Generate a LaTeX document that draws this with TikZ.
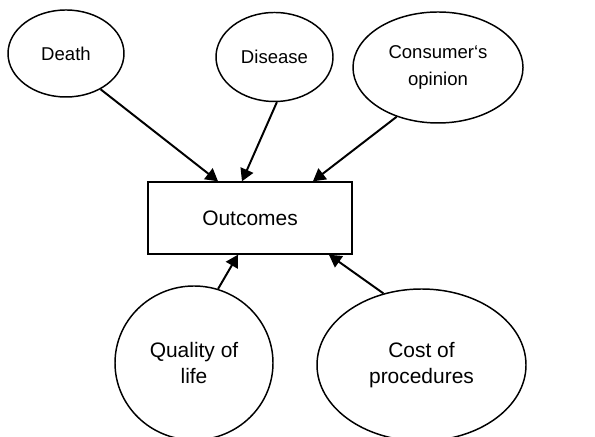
\documentclass[tikz,border=0pt]{standalone}
\usepackage{fontspec}
\setmainfont{Liberation Sans}
\usetikzlibrary{shapes,arrows}

\begin{document}
\begin{tikzpicture} [bubble/.style={ellipse,draw,line width=1.05pt,inner sep=0pt,align=center},
  toptext/.style={font=\fontsize{13.2}{19}\selectfont},
  lowtext/.style={font=\fontsize{14.9}{18.8}\selectfont},
  link/.style={-triangle 60,line width=1.4pt}]

\useasboundingbox (0,0) rectangle (14.875,10.925);
\clip (0,0) rectangle (14.875,10.925);

\node[bubble,toptext,minimum width=2.9cm,minimum height=2.175cm] (death) at (1.65,9.5875) {Death};
\node[bubble,toptext,minimum width=2.925cm,minimum height=2.225cm] (disease) at (6.8625,9.5) {Disease};
\node[bubble,toptext,minimum width=4.25cm,minimum height=2.775cm] (opinion) at (10.95,9.2375) {Consumer‘s\\opinion};

\node[draw,line width=1.05pt,lowtext,minimum width=5.1cm,minimum height=1.8cm,inner sep=0pt] (outcomes) at (6.25,5.475) {Outcomes};

\node[bubble,lowtext,minimum width=3.95cm,minimum height=3.85cm] (quality) at (4.85,1.85) {Quality of\\life};
\node[bubble,lowtext,minimum width=5.225cm,minimum height=3.8cm] (cost) at (10.5375,1.8) {Cost of\\procedures};

\draw[link] (death.-46) -- ([xshift=-0.8cm]outcomes.north);
\draw[link] (disease.-87) -- ([xshift=-0.2cm]outcomes.north);
\draw[link] (opinion.-130) -- ([xshift=1.575cm]outcomes.north);
\draw[link] (quality.72) -- ([xshift=-0.3cm]outcomes.south);
\draw[link] (cost.118) -- ([xshift=1.975cm]outcomes.south);

\end{tikzpicture}
\end{document}
